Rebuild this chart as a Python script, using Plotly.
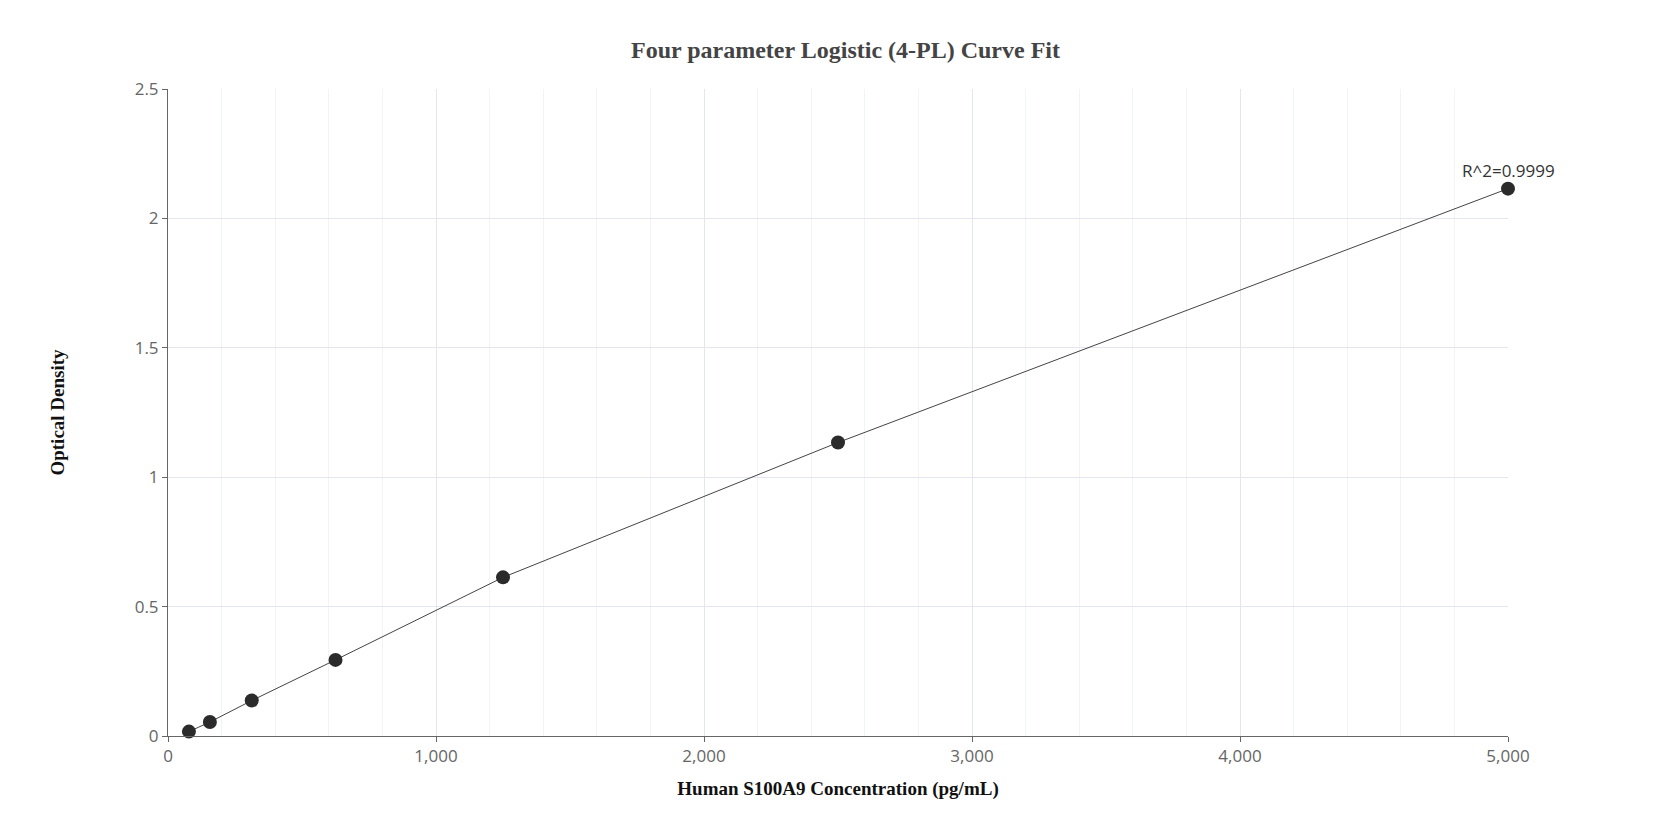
import plotly.graph_objects as go

conc = [78.125, 156.25, 312.5, 625, 1250, 2500, 5000]
od = [0.017, 0.054, 0.137, 0.294, 0.613, 1.134, 2.115]
x_ticks = [0, 1000, 2000, 3000, 4000, 5000]
x_tick_labels = ["0", "1,000", "2,000", "3,000", "4,000", "5,000"]

fig = go.Figure()
fig.add_trace(go.Scatter(x=conc, y=od, mode="lines", line=dict(color="#444", width=1), hoverinfo="skip",
                         showlegend=False, cliponaxis=False))
fig.add_trace(go.Scatter(x=conc, y=od, mode="markers", marker=dict(color="#2b2b2b", size=14),
                         showlegend=False, cliponaxis=False))
fig.add_annotation(x=conc[-1], y=od[-1], text="R^2=0.9999", showarrow=False, yshift=18,
                   font=dict(family="Open Sans, Noto Sans, sans-serif", size=17, color="#333"))

fig.update_layout(
    width=1675, height=840, plot_bgcolor="white", paper_bgcolor="white",
    margin=dict(l=160, r=175, t=81, b=112),
    title=dict(text="<b>Four parameter Logistic (4-PL) Curve Fit</b>", x=0.5, xanchor="center", y=0.96,
               font=dict(family="Times New Roman, Liberation Serif, serif", size=24, color="#444")),
    xaxis=dict(range=[0, 5000], tickvals=x_ticks, ticktext=x_tick_labels,
               showline=True, linecolor="#666", ticks="outside", tickcolor="#666", ticklen=5,
               gridcolor="#e3e6ef", tickfont=dict(family="Open Sans, sans-serif", size=17, color="#666"),
               minor=dict(dtick=200, showgrid=True, gridcolor="#f2f3f8"),
               zeroline=False,
               title=dict(text="<b>Human S100A9 Concentration (pg/mL)</b>",
                          font=dict(family="Times New Roman, Liberation Serif, serif", size=19, color="#111"))),
    yaxis=dict(range=[0, 2.5], dtick=0.5, showline=True, linecolor="#666", ticks="outside", tickcolor="#666", ticklen=5,
               gridcolor="#e3e6ef", tickfont=dict(family="Open Sans, sans-serif", size=17, color="#666"),
               minor=dict(dtick=0.1, showgrid=False),
               zeroline=False,
               title=dict(text="<b>Optical Density</b>", standoff=65,
                          font=dict(family="Times New Roman, Liberation Serif, serif", size=19, color="#111"))),
)
fig.write_html("out.html")
